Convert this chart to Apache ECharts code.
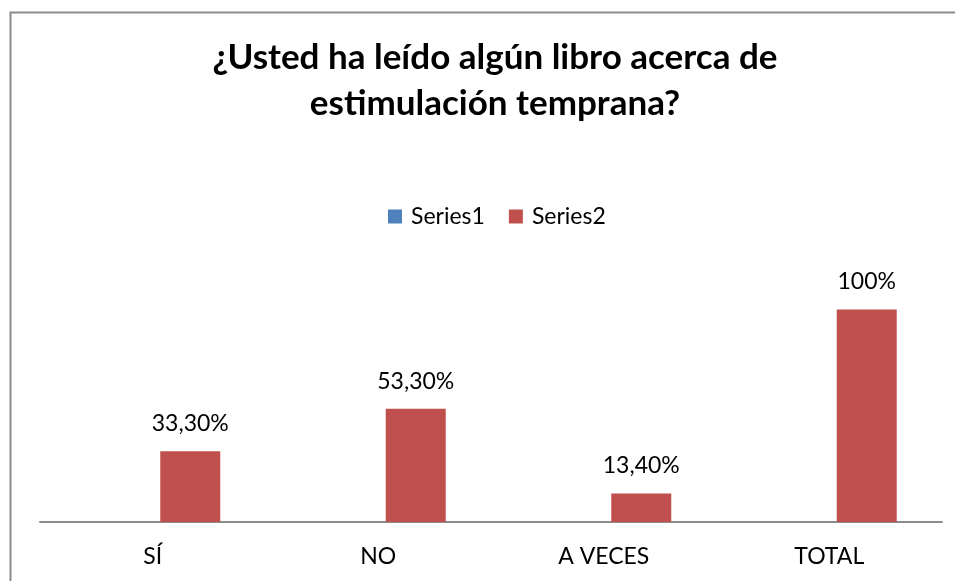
<!DOCTYPE html>
<html>
<head>
<meta charset="utf-8">
<script src="https://cdn.jsdelivr.net/npm/echarts@6/dist/echarts.min.js"></script>
<style>
  html, body { margin: 0; padding: 0; background: #fff; }
  #main { width: 955px; height: 581px; }
</style>
</head>
<body>
<div id="main"></div>
<script>
const categories = ['SÍ', 'NO', 'A VECES', 'TOTAL'];
const series1 = [0, 0, 0, 0];
const series2 = [0.333, 0.533, 0.134, 1.0];
const series2Labels = ['33,30%', '53,30%', '13,40%', '100%'];

const font = 'Lato, "Open Sans", sans-serif';

let myChart = echarts.init(document.getElementById('main'));
let option = {
  animation: false,
  textStyle: { fontFamily: font },
  graphic: [{
    type: 'rect',
    shape: { x: 10.5, y: 12.5, width: 1200, height: 800 },
    style: { fill: 'none', stroke: '#8c8c8c', lineWidth: 2 },
    silent: true
  }],
  title: {
    text: '¿Usted ha leído algún libro acerca de\nestimulación temprana?',
    left: 490,
    textAlign: 'center',
    top: 30,
    textStyle: {
      fontFamily: font,
      fontWeight: 'bold',
      fontSize: 35,
      lineHeight: 46,
      color: '#000'
    }
  },
  legend: {
    data: ['Series1', 'Series2'],
    left: 383,
    top: 200,
    orient: 'horizontal',
    itemWidth: 14,
    itemHeight: 14,
    itemGap: 24,
    icon: 'rect',
    textStyle: { fontFamily: font, fontSize: 23, color: '#000', padding: [0, 0, 0, 4] }
  },
  grid: {
    left: 40,
    right: 13,
    top: 267,
    bottom: 59
  },
  xAxis: {
    type: 'category',
    data: categories,
    axisLine: { lineStyle: { color: '#8c8c8c', width: 2 } },
    axisTick: { show: false },
    axisLabel: { fontFamily: font, fontSize: 23, color: '#000', margin: 23 }
  },
  yAxis: {
    type: 'value',
    min: 0,
    max: 1.2,
    show: false,
    splitLine: { show: false }
  },
  series: [
    {
      name: 'Series1',
      type: 'bar',
      data: series1,
      barWidth: 60,
      barGap: '25%',
      itemStyle: { color: '#4F81BD' }
    },
    {
      name: 'Series2',
      type: 'bar',
      data: series2,
      barWidth: 60,
      barGap: '25%',
      itemStyle: { color: '#C0504D' },
      label: {
        show: true,
        position: 'top',
        distance: 16,
        fontFamily: font,
        fontSize: 23,
        color: '#000',
        formatter: (p) => series2Labels[p.dataIndex]
      }
    }
  ]
};
myChart.setOption(option, true);
</script>
</body>
</html>
